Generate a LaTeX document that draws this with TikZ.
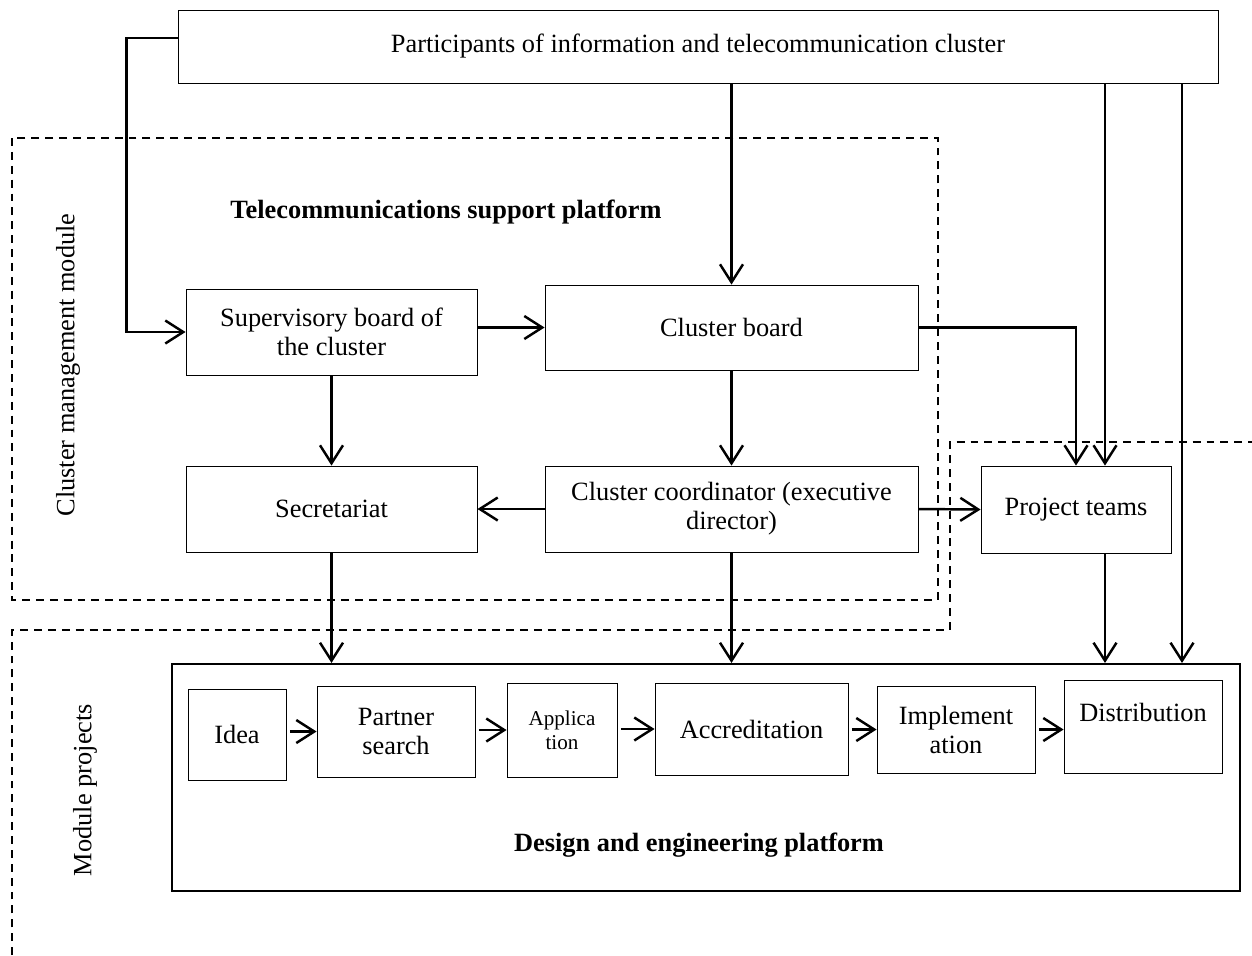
\documentclass[tikz,border=0pt]{standalone}
\usepackage{fontspec}
\setmainfont{Liberation Serif}
\usetikzlibrary{arrows.meta,positioning}

\begin{document}
\begin{tikzpicture}[
                        >={Straight Barb[length=3.6mm,width=4.6mm]},
                        font=\fontsize{15}{16.5}\selectfont,
                        block/.style={rectangle, draw, line width=0.5pt, align=center},
                        link/.style={->, line width=1.4pt},
                        zone/.style={line width=0.7pt, dash pattern=on 4.5pt off 3.4pt}
                    ]
                    \useasboundingbox (0,0) rectangle (25.04,-19.1);

                    % Zones
                    \draw [zone] (0.24,-2.76) rectangle (18.76,-12.0);
                    \draw [zone] (0.24,-19.1) -- (0.24,-12.6) -- (19.0,-12.6) -- (19.0,-8.84) -- (25.04,-8.84);
                    \node [rotate=90] (cmm) at (1.36,-7.3) {Cluster management module};
                    \node [rotate=90] (mp) at (1.7,-15.8) {Module projects};
                    \node [font=\fontsize{15}{16.5}\selectfont\bfseries] (tsp) at (8.92,-4.24) {Telecommunications support platform};

                    % Blocks
                    \node [block, minimum width=20.8cm, minimum height=1.46cm] (part) at (13.96,-0.93) {Participants of information and telecommunication cluster};
                    \node [block, minimum width=5.82cm, minimum height=1.72cm] (sup) at (6.63,-6.64) {Supervisory board of\\the cluster};
                    \node [block, minimum width=7.46cm, minimum height=1.7cm] (board) at (14.63,-6.55) {Cluster board};
                    \node [block, minimum width=5.82cm, minimum height=1.72cm] (secr) at (6.63,-10.18) {Secretariat};
                    \node [block, minimum width=7.46cm, minimum height=1.72cm] (coord) at (14.63,-10.18) {Cluster coordinator (executive\\director)};
                    \node [block, minimum width=3.8cm, minimum height=1.74cm] (teams) at (21.52,-10.19) {Project teams};

                    \node [block, line width=1.2pt, minimum width=21.36cm, minimum height=4.54cm] (design) at (14.12,-15.55) {};
                    \node [font=\fontsize{15}{16.5}\selectfont\bfseries] (dep) at (13.98,-16.9) {Design and engineering platform};
                    \node [block, minimum width=1.96cm, minimum height=1.82cm] (idea) at (4.74,-14.69) {Idea};
                    \node [block, minimum width=3.16cm, minimum height=1.82cm] (partner) at (7.92,-14.63) {Partner\\search};
                    \node [block, minimum width=2.2cm, minimum height=1.88cm, font=\fontsize{12}{13.5}\selectfont] (app) at (11.24,-14.6) {Applica\\tion};
                    \node [block, minimum width=3.86cm, minimum height=1.84cm] (accr) at (15.03,-14.58) {Accreditation};
                    \node [block, minimum width=3.16cm, minimum height=1.74cm] (impl) at (19.12,-14.59) {Implement\\ation};
                    \node [block, minimum width=3.16cm, minimum height=1.86cm] (distr) at (22.86,-14.53) {Distribution\\~};

                    % Connections
                    \draw [link] ([yshift=.17cm]part.west) -- ++(-1.02,0) |- (sup.west);
                    \draw [link] (part.south -| board.north) -- (board.north);
                    \draw [link] ([xshift=.58cm]teams.north |- part.south) -- ([xshift=.58cm]teams.north);
                    \draw [link] ([xshift=9.68cm]part.south) -- ([xshift=9.68cm]part.south |- design.north);
                    \draw [link] (sup.east |- board.west) -- (board.west);
                    \draw [link] (sup.south) -- (secr.north);
                    \draw [link] (board.south) -- (coord.north);
                    \draw [link] (board.east) -| (teams.north);
                    \draw [link] (coord.west) -- (secr.east);
                    \draw [link] (coord.east) -- (teams.west);
                    \draw [link] (secr.south) -- (secr.south |- design.north);
                    \draw [link] (coord.south) -- (coord.south |- design.north);
                    \draw [link] ([xshift=.58cm]teams.south) -- ([xshift=.58cm]teams.south |- design.north);

                    \draw [link, shorten <=2pt] (idea.east |- partner.west) -- (partner.west);
                    \draw [link, shorten <=2pt] (partner.east |- app.west) -- (app.west);
                    \draw [link, shorten <=2pt] (app.east |- accr.west) -- (accr.west);
                    \draw [link, shorten <=2pt] (accr.east |- impl.west) -- (impl.west);
                    \draw [link, shorten <=2pt] (impl.east) -- (impl.east -| distr.west);
                \end{tikzpicture}
\end{document}
